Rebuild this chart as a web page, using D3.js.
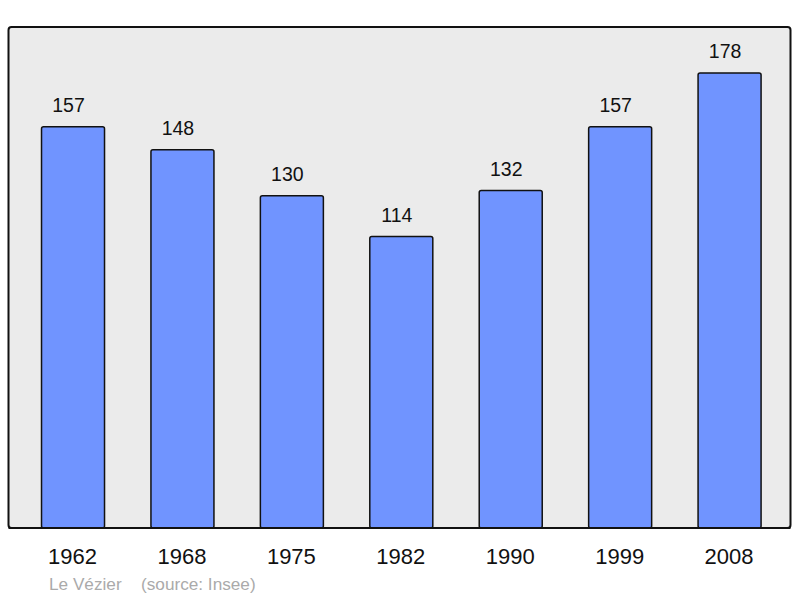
<!DOCTYPE html>
<html><head><meta charset="utf-8">
<script src="https://cdn.jsdelivr.net/npm/d3@7"></script>
<style>body{margin:0;background:#fff}svg{display:block}</style>
</head><body>
<script>
const years = ["1962","1968","1975","1982","1990","1999","2008"];
const population = [157,148,130,114,132,157,178];
const place = "Le Vézier";
const source = "(source: Insee)";

const W = 800, H = 598;
const svg = d3.select("body").append("svg").attr("width", W).attr("height", H);

const frame = {x0: 8.5, y0: 27, x1: 790.5, y1: 528};
svg.append("rect").attr("x", frame.x0).attr("y", frame.y0)
  .attr("width", frame.x1 - frame.x0).attr("height", frame.y1 - frame.y0)
  .attr("rx", 3).attr("fill", "#ebebeb").attr("stroke", "#111").attr("stroke-width", 2);

const x = d3.scaleBand().domain(years).range([-4.9, 807.5]).paddingInner(0.4242).paddingOuter(0.4242);
const y = d3.scaleLinear().domain([0, 196]).range([frame.y1, frame.y0]);

svg.append("g").selectAll("rect").data(population).join("rect")
  .attr("x", (d,i) => x(years[i]))
  .attr("y", d => y(d))
  .attr("width", x.bandwidth())
  .attr("height", d => y(0) - y(d))
  .attr("rx", 2)
  .attr("fill", "#7094ff").attr("stroke", "#111").attr("stroke-width", 1.5);

svg.append("g").selectAll("text").data(population).join("text")
  .attr("x", (d,i) => x(years[i]) + x.bandwidth()/2 - 4.5)
  .attr("y", d => y(d) - 15)
  .attr("text-anchor", "middle")
  .attr("font-family", "Liberation Sans, Arial, sans-serif")
  .attr("font-size", 19.5).attr("fill", "#111")
  .text(d => d);

svg.append("line").attr("x1", frame.x0).attr("x2", frame.x1).attr("y1", frame.y1).attr("y2", frame.y1)
  .attr("stroke", "#111").attr("stroke-width", 2);

svg.append("g").selectAll("text").data(years).join("text")
  .attr("x", d => x(d) + x.bandwidth()/2 - 0.5)
  .attr("y", 564.3)
  .attr("text-anchor", "middle")
  .attr("font-family", "Liberation Sans, Arial, sans-serif")
  .attr("font-size", 22).attr("fill", "#111")
  .text(d => d);

svg.append("text").attr("x", 49).attr("y", 590)
  .attr("font-family", "Liberation Sans, Arial, sans-serif")
  .attr("font-size", 17.2).attr("fill", "#aaaaaa").text(place);
svg.append("text").attr("x", 141).attr("y", 590)
  .attr("font-family", "Liberation Sans, Arial, sans-serif")
  .attr("font-size", 17.2).attr("fill", "#aaaaaa").text(source);
</script>
</body></html>
